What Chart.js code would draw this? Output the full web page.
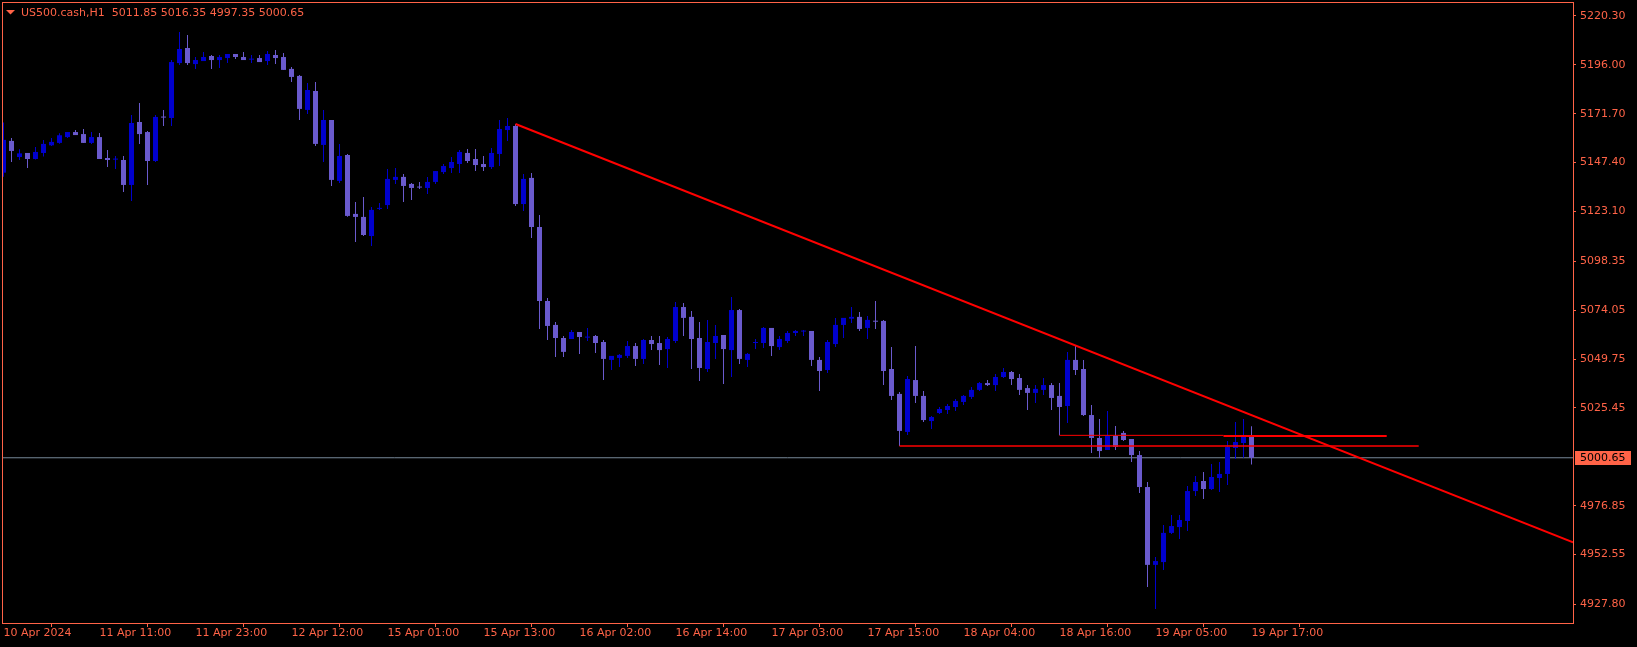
<!DOCTYPE html>
<html>
<head>
<meta charset="utf-8">
<title>US500.cash,H1</title>
<script src="https://cdn.jsdelivr.net/npm/chart.js@4.4.1/dist/chart.umd.min.js"></script>
<style>
  html, body { margin: 0; padding: 0; background: #000; overflow: hidden; }
  canvas { display: block; }
</style>
</head>
<body>
<canvas id="chart" width="1637" height="647"></canvas>
<script>
const symbol = 'US500.cash';
const period = 'H1';

// hourly candles, one per bar
const opens = [
  5142.4, 5158.2, 5150.2, 5152.2, 5149.2, 5152.2, 5156.0, 5157.2, 5160.1, 5162.6,
  5161.6, 5157.2, 5160.1, 5149.7, 5148.9, 5148.7, 5136.3, 5167.6, 5162.6, 5148.2,
  5170.1, 5169.6, 5196.9, 5204.4, 5196.4, 5197.9, 5200.4, 5198.4, 5199.4, 5201.4,
  5199.9, 5198.6, 5199.4, 5197.9, 5200.9, 5199.9, 5194.0, 5190.5, 5173.6, 5183.0,
  5156.2, 5168.6, 5138.3, 5151.2, 5121.9, 5120.4, 5110.9, 5124.4, 5126.3, 5138.8,
  5140.3, 5136.8, 5135.3, 5134.8, 5137.8, 5142.7, 5144.7, 5146.7, 5152.2, 5149.2,
  5146.7, 5145.2, 5151.7, 5163.6, 5165.6, 5126.8, 5139.8, 5115.4, 5078.6, 5066.7,
  5060.2, 5059.7, 5063.2, 5060.4, 5061.2, 5058.2, 5049.3, 5050.3, 5051.3, 5056.2,
  5049.8, 5059.2, 5057.7, 5054.7, 5058.7, 5075.6, 5070.7, 5060.2, 5044.8, 5057.7,
  5061.7, 5054.2, 5074.1, 5049.3, 5057.7, 5057.7, 5065.2, 5055.7, 5058.7, 5062.7,
  5063.4, 5063.7, 5049.3, 5044.3, 5057.2, 5066.7, 5069.8, 5070.7, 5065.2, 5068.7,
  5068.7, 5044.8, 5032.4, 5013.5, 5039.3, 5031.4, 5018.9, 5022.9, 5024.4, 5025.9,
  5028.4, 5030.9, 5034.4, 5037.8, 5036.8, 5040.8, 5043.3, 5040.3, 5035.3, 5032.9,
  5034.4, 5036.8, 5031.4, 5026.4, 5049.3, 5044.8, 5021.9, 5010.5, 5004.5, 5011.5,
  5013.0, 5010.0, 5002.0, 4986.1, 4947.4, 4948.8, 4963.3, 4966.2, 4969.2, 4984.1,
  4989.1, 4985.1, 4990.6, 4992.6, 5005.5, 5008.0, 5011.85
];
const highs = [
  5167.3, 5159.6, 5154.0, 5152.2, 5155.2, 5158.7, 5159.6, 5162.0, 5162.6, 5163.6,
  5164.1, 5162.6, 5162.1, 5153.7, 5150.7, 5150.7, 5171.1, 5177.0, 5163.1, 5171.1,
  5173.6, 5198.4, 5212.3, 5210.9, 5199.9, 5202.4, 5200.9, 5200.9, 5201.4, 5201.4,
  5202.4, 5200.9, 5200.9, 5202.9, 5203.4, 5201.9, 5194.9, 5191.0, 5187.0, 5187.5,
  5173.6, 5168.6, 5156.7, 5151.7, 5127.8, 5130.3, 5125.3, 5127.3, 5144.2, 5144.7,
  5141.8, 5137.3, 5137.8, 5140.3, 5143.2, 5146.7, 5150.2, 5153.7, 5154.2, 5154.2,
  5150.7, 5154.7, 5168.6, 5169.6, 5166.6, 5141.8, 5142.3, 5121.4, 5080.1, 5068.2,
  5061.2, 5064.2, 5063.2, 5065.2, 5061.7, 5059.2, 5051.3, 5052.3, 5058.7, 5057.7,
  5059.7, 5061.2, 5061.2, 5060.7, 5078.1, 5077.6, 5073.6, 5068.2, 5069.2, 5066.7,
  5061.7, 5080.6, 5074.6, 5052.8, 5059.7, 5065.7, 5065.2, 5061.2, 5063.7, 5064.2,
  5064.2, 5063.7, 5050.8, 5059.2, 5070.2, 5070.2, 5075.6, 5073.1, 5071.2, 5078.6,
  5069.2, 5055.7, 5033.4, 5041.3, 5056.2, 5033.9, 5021.4, 5025.9, 5027.4, 5029.9,
  5031.9, 5035.8, 5038.3, 5039.3, 5042.3, 5045.3, 5043.8, 5042.3, 5036.8, 5036.8,
  5040.3, 5037.8, 5037.8, 5053.2, 5056.7, 5049.3, 5026.9, 5019.9, 5023.9, 5016.5,
  5014.0, 5010.0, 5004.0, 4988.6, 4951.3, 4967.2, 4972.2, 4972.2, 4986.6, 4991.6,
  4993.6, 4997.6, 4998.6, 5009.0, 5018.4, 5019.9, 5016.35
];
const lows = [
  5140.4, 5147.7, 5148.7, 5144.7, 5148.9, 5150.4, 5155.7, 5156.8, 5159.6, 5161.1,
  5157.2, 5156.7, 5149.2, 5145.2, 5144.2, 5132.8, 5128.3, 5156.7, 5136.3, 5147.7,
  5165.6, 5165.6, 5195.9, 5195.9, 5193.9, 5197.9, 5193.9, 5194.4, 5196.9, 5198.9,
  5198.4, 5196.9, 5197.4, 5195.9, 5196.4, 5193.5, 5187.5, 5168.6, 5171.6, 5155.7,
  5147.7, 5135.8, 5137.3, 5120.5, 5107.9, 5110.9, 5106.0, 5123.9, 5124.4, 5136.8,
  5127.8, 5128.8, 5134.3, 5131.8, 5136.8, 5141.8, 5142.3, 5142.3, 5147.2, 5143.2,
  5143.2, 5144.2, 5145.7, 5158.2, 5125.8, 5123.4, 5109.9, 5064.7, 5059.2, 5050.8,
  5050.8, 5059.7, 5052.3, 5058.7, 5052.8, 5039.3, 5044.3, 5045.8, 5050.3, 5046.3,
  5047.3, 5054.2, 5046.8, 5045.3, 5057.7, 5061.2, 5044.8, 5038.8, 5043.3, 5049.8,
  5037.3, 5040.8, 5047.3, 5045.8, 5054.7, 5055.2, 5051.3, 5054.2, 5057.7, 5061.2,
  5061.2, 5046.3, 5033.9, 5042.8, 5055.7, 5060.2, 5067.7, 5063.7, 5059.7, 5064.7,
  5036.8, 5029.4, 5006.5, 5012.0, 5027.9, 5018.4, 5015.0, 5022.4, 5022.4, 5023.9,
  5026.9, 5029.9, 5033.9, 5036.3, 5033.9, 5040.3, 5036.8, 5031.9, 5024.4, 5027.9,
  5031.9, 5024.4, 5011.8, 5017.9, 5041.8, 5021.4, 5003.0, 5000.5, 5004.5, 5004.5,
  5009.0, 4998.6, 4983.1, 4936.4, 4925.5, 4944.9, 4962.8, 4960.3, 4964.3, 4981.7,
  4980.2, 4984.6, 4983.6, 4987.1, 5000.1, 5000.6, 4997.35
];
const closes = [
  5158.7, 5153.2, 5152.0, 5149.2, 5152.7, 5156.7, 5157.7, 5161.0, 5162.6, 5161.1,
  5157.2, 5160.1, 5149.2, 5148.7, 5149.2, 5136.3, 5167.1, 5161.6, 5148.2, 5170.1,
  5169.8, 5197.4, 5203.9, 5196.9, 5198.4, 5199.9, 5198.4, 5199.9, 5201.4, 5199.9,
  5198.4, 5198.9, 5197.4, 5201.4, 5199.4, 5193.5, 5190.0, 5174.1, 5183.5, 5156.7,
  5168.6, 5138.8, 5150.7, 5120.9, 5120.4, 5111.4, 5123.9, 5124.8, 5139.3, 5140.3,
  5135.8, 5134.8, 5135.0, 5137.8, 5143.2, 5145.7, 5147.7, 5152.7, 5148.2, 5146.2,
  5145.2, 5152.2, 5164.1, 5165.6, 5126.8, 5139.3, 5115.4, 5078.6, 5066.2, 5060.2,
  5053.3, 5063.2, 5060.7, 5060.7, 5057.7, 5049.8, 5051.3, 5051.8, 5056.2, 5049.8,
  5059.2, 5057.2, 5054.2, 5059.7, 5075.6, 5070.2, 5059.7, 5045.3, 5058.2, 5061.2,
  5054.7, 5074.1, 5049.8, 5052.3, 5058.2, 5065.2, 5056.2, 5059.7, 5062.7, 5063.7,
  5063.7, 5049.3, 5043.8, 5058.2, 5066.7, 5070.2, 5070.7, 5064.7, 5069.2, 5068.3,
  5043.8, 5031.4, 5014.0, 5039.8, 5031.4, 5019.4, 5020.9, 5024.9, 5026.4, 5028.9,
  5031.4, 5034.4, 5037.8, 5036.8, 5040.8, 5043.3, 5039.8, 5034.4, 5032.9, 5034.9,
  5036.8, 5030.4, 5025.9, 5049.3, 5044.3, 5021.9, 5010.5, 5004.0, 5011.5, 5006.0,
  5009.5, 5002.0, 4986.1, 4947.4, 4949.3, 4963.3, 4966.7, 4969.7, 4984.1, 4988.6,
  4985.1, 4991.1, 4992.6, 5006.0, 5008.5, 5011.5, 5000.65
];

// time axis labels, one every 12 bars
const timeTickBars = [0, 12, 24, 36, 48, 60, 72, 84, 96, 108, 120, 132, 144, 156];
const timeTickLabels = [
  '10 Apr 2024', '11 Apr 11:00', '11 Apr 23:00', '12 Apr 12:00', '15 Apr 01:00',
  '15 Apr 13:00', '16 Apr 02:00', '16 Apr 14:00', '17 Apr 03:00', '17 Apr 15:00',
  '18 Apr 04:00', '18 Apr 16:00', '19 Apr 05:00', '19 Apr 17:00'
];
const priceTicks = [5220.30, 5196.00, 5171.70, 5147.40, 5123.10, 5098.35, 5074.05,
  5049.75, 5025.45, 4976.85, 4952.55, 4927.80];

// drawn objects: [bar, price]
const trendPoints = [[64, 5166.6], [196.2, 4958.6]];
const lowerLevel = [[112, 5006.5], [176.9, 5006.5]];
const upperLevel = [[132, 5011.8], [152.5, 5011.8]];
const upperLevel2 = [[152.5, 5011.5], [172.9, 5011.5]];

const X_MIN = -0.1875, X_MAX = 196.1875;
const Y_MIN = 4918.50, Y_MAX = 5227.26;

const AXIS_COLOR = '#FF6347';
const UP_COLOR = '#0000CD';
const DOWN_COLOR = '#6A5ACD';
const FONT = { family: 'DejaVu Sans', size: 11 };

const bars = opens.map((_, i) => i);
const candleColors = bars.map(i => closes[i] > opens[i] ? UP_COLOR : DOWN_COLOR);
const lastBar = opens.length - 1;
const toPoints = pts => pts.map(p => ({ x: p[0], y: p[1] }));

function lineSet(pts, color, width, order) {
    return {
        type: 'line',
        data: toPoints(pts),
        borderColor: color,
        borderWidth: width,
        pointRadius: 0,
        fill: false,
        order: order
    };
}

const chartDecor = {
    id: 'chartDecor',
    afterDraw(chart) {
        const { ctx, chartArea: a } = chart;
        const y = chart.scales.y;
        ctx.save();
        ctx.strokeStyle = AXIS_COLOR;
        ctx.lineWidth = 1;
        ctx.strokeRect(a.left + 0.5, a.top + 0.5, a.right - a.left, a.bottom - a.top);

        // header
        ctx.fillStyle = AXIS_COLOR;
        ctx.beginPath();
        ctx.moveTo(6, 10);
        ctx.lineTo(15, 10);
        ctx.lineTo(10.5, 14.5);
        ctx.closePath();
        ctx.fill();
        ctx.font = '11px "DejaVu Sans"';
        ctx.textBaseline = 'middle';
        ctx.textAlign = 'left';
        const ohlc = [opens, highs, lows, closes].map(s => s[lastBar].toFixed(2)).join(' ');
        ctx.fillText(`${symbol},${period}  ${ohlc}`, 21, 13);

        // bid price label
        const py = Math.round(y.getPixelForValue(closes[lastBar]));
        ctx.fillRect(a.right + 2, py - 7, 56, 14);
        ctx.fillStyle = '#000';
        ctx.fillText(closes[lastBar].toFixed(2), a.right + 7, py + 0.5);
        ctx.restore();
    }
};

new Chart(document.getElementById('chart'), {
    type: 'bar',
    data: {
        datasets: [
            lineSet([[X_MIN, closes[lastBar]], [X_MAX, closes[lastBar]]], '#778899', 1, 5),
            {
                type: 'bar',
                data: bars.map(i => ({ x: i, y: [lows[i], highs[i]] })),
                backgroundColor: candleColors,
                borderWidth: 0,
                barThickness: 1,
                maxBarThickness: 1,
                inflateAmount: 0,
                grouped: false,
                order: 4
            },
            {
                type: 'bar',
                data: bars.map(i => ({ x: i, y: [opens[i], closes[i]] })),
                backgroundColor: candleColors,
                borderWidth: 0,
                barThickness: 5,
                maxBarThickness: 5,
                minBarLength: 1,
                inflateAmount: 0,
                grouped: false,
                order: 3
            },
            lineSet(upperLevel, '#FF0000', 1, 2),
            lineSet(upperLevel2, '#FF0000', 2, 2),
            lineSet(lowerLevel, '#FF0000', 1.5, 2),
            lineSet(trendPoints, '#FF0000', 2, 1)
        ]
    },
    options: {
        responsive: false,
        animation: false,
        events: [],
        layout: { padding: { left: 2, top: 2, right: 0, bottom: 0 } },
        plugins: {
            legend: { display: false },
            tooltip: { enabled: false }
        },
        scales: {
            x: {
                type: 'linear',
                min: X_MIN,
                max: X_MAX,
                offset: false,
                afterBuildTicks: s => { s.ticks = timeTickBars.map(v => ({ value: v })); },
                afterFit: s => { s.height = 24; s.paddingLeft = 0; s.paddingRight = 0; },
                ticks: {
                    callback: (v, i) => timeTickLabels[i],
                    align: 'start',
                    padding: 0,
                    autoSkip: false,
                    maxRotation: 0,
                    color: AXIS_COLOR,
                    font: FONT
                },
                grid: { drawOnChartArea: false, tickLength: 4, color: AXIS_COLOR },
                border: { display: false }
            },
            y: {
                position: 'right',
                min: Y_MIN,
                max: Y_MAX,
                afterBuildTicks: s => { s.ticks = priceTicks.map(v => ({ value: v })); },
                afterFit: s => { s.width = 64; s.paddingTop = 0; s.paddingBottom = 0; },
                ticks: {
                    callback: v => v.toFixed(2),
                    padding: 4,
                    autoSkip: false,
                    color: AXIS_COLOR,
                    font: FONT
                },
                grid: { drawOnChartArea: false, tickLength: 3, color: AXIS_COLOR },
                border: { display: false }
            }
        }
    },
    plugins: [chartDecor]
});
</script>
</body>
</html>
